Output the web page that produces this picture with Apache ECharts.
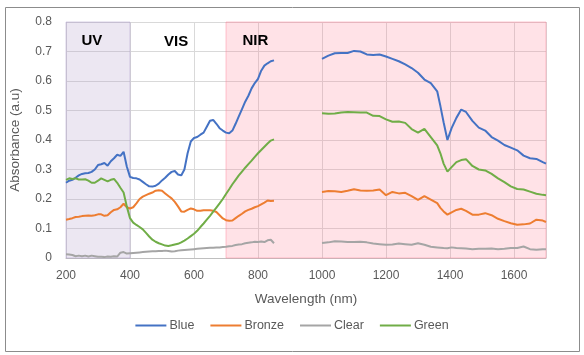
<!DOCTYPE html>
<html><head><meta charset="utf-8">
<script src="https://cdn.jsdelivr.net/npm/echarts@6/dist/echarts.min.js"></script>
<style>html,body{margin:0;padding:0;background:#fff}#c{width:584px;height:355px}</style>
</head><body><div id="c"></div>
<script>
// Wavelengths (nm); 925 is a gap marker (no data between 850 and 1000)
const wavelengths = [200,210,220,230,240,250,260,270,280,290,300,310,320,330,340,350,360,370,380,390,400,410,420,430,440,450,460,470,480,490,500,510,520,530,540,550,560,570,580,590,600,610,620,630,640,650,660,670,680,690,700,710,720,730,740,750,760,770,780,790,800,810,820,830,840,850,
925,
1000,1020,1040,1060,1080,1100,1120,1140,1160,1180,1200,1220,1240,1260,1280,1300,1320,1340,1360,1370,1380,1392,1405,1420,1435,1450,1470,1490,1510,1530,1550,1570,1590,1610,1630,1650,1670,1690,1700];

const blue = [0.255,0.262,0.265,0.272,0.28,0.285,0.287,0.288,0.292,0.30,0.315,0.318,0.322,0.313,0.328,0.338,0.35,0.346,0.36,0.31,0.275,0.271,0.27,0.266,0.258,0.25,0.243,0.242,0.245,0.252,0.263,0.272,0.283,0.292,0.295,0.283,0.28,0.30,0.355,0.395,0.407,0.41,0.418,0.425,0.445,0.465,0.468,0.455,0.44,0.432,0.425,0.423,0.432,0.455,0.48,0.505,0.53,0.55,0.575,0.593,0.607,0.635,0.652,0.66,0.667,0.67,
null,
0.675,0.686,0.694,0.695,0.695,0.702,0.7,0.69,0.688,0.69,0.683,0.675,0.667,0.656,0.644,0.628,0.605,0.593,0.565,0.515,0.46,0.40,0.44,0.475,0.503,0.495,0.465,0.442,0.432,0.41,0.398,0.383,0.374,0.365,0.347,0.338,0.336,0.325,0.32];

const bronze = [0.13,0.132,0.135,0.139,0.14,0.142,0.143,0.144,0.143,0.145,0.148,0.148,0.143,0.145,0.155,0.163,0.165,0.172,0.184,0.172,0.168,0.172,0.185,0.2,0.208,0.213,0.218,0.222,0.228,0.23,0.228,0.219,0.21,0.202,0.19,0.175,0.158,0.157,0.163,0.168,0.165,0.16,0.16,0.162,0.162,0.162,0.16,0.156,0.145,0.134,0.128,0.126,0.127,0.135,0.143,0.15,0.158,0.163,0.167,0.172,0.176,0.182,0.188,0.195,0.193,0.194,
null,
0.224,0.227,0.226,0.224,0.228,0.233,0.229,0.228,0.229,0.232,0.213,0.224,0.219,0.221,0.21,0.197,0.21,0.198,0.186,0.17,0.158,0.147,0.155,0.163,0.167,0.16,0.147,0.147,0.152,0.145,0.133,0.125,0.118,0.113,0.114,0.117,0.13,0.127,0.122];

const clear = [0.013,0.012,0.01,0.006,0.008,0.006,0.008,0.005,0.008,0.006,0.004,0.004,0.003,0.005,0.004,0.006,0.005,0.018,0.02,0.015,0.016,0.017,0.018,0.019,0.02,0.021,0.022,0.023,0.023,0.024,0.024,0.025,0.024,0.022,0.023,0.025,0.026,0.027,0.028,0.029,0.03,0.031,0.032,0.033,0.034,0.035,0.035,0.036,0.036,0.037,0.038,0.04,0.041,0.044,0.046,0.047,0.05,0.052,0.053,0.055,0.054,0.056,0.054,0.06,0.062,0.05,
null,
0.051,0.053,0.057,0.056,0.054,0.054,0.055,0.053,0.049,0.047,0.045,0.046,0.049,0.047,0.045,0.05,0.045,0.038,0.036,0.035,0.034,0.033,0.036,0.034,0.033,0.032,0.03,0.031,0.031,0.032,0.03,0.031,0.034,0.034,0.039,0.03,0.028,0.03,0.03];

const green = [0.265,0.27,0.268,0.27,0.266,0.266,0.267,0.262,0.255,0.255,0.262,0.27,0.265,0.26,0.265,0.268,0.255,0.238,0.222,0.175,0.135,0.12,0.112,0.105,0.097,0.085,0.073,0.062,0.055,0.05,0.046,0.042,0.041,0.043,0.046,0.048,0.053,0.059,0.066,0.074,0.082,0.092,0.105,0.117,0.13,0.143,0.157,0.171,0.185,0.2,0.217,0.233,0.25,0.265,0.28,0.293,0.306,0.318,0.33,0.343,0.355,0.366,0.377,0.388,0.398,0.402,
null,
0.491,0.489,0.49,0.493,0.495,0.494,0.493,0.493,0.482,0.481,0.47,0.462,0.463,0.458,0.437,0.425,0.438,0.41,0.382,0.355,0.32,0.293,0.308,0.325,0.332,0.335,0.312,0.3,0.297,0.285,0.27,0.257,0.243,0.234,0.232,0.225,0.218,0.214,0.213];

const seriesNames = ['Blue','Bronze','Clear','Green'];
const seriesColors = ['#4472C4','#ED7D31','#A5A5A5','#70AD47'];
const regions = [ {name:'UV', from:200, to:400}, {name:'VIS', from:400, to:700}, {name:'NIR', from:700, to:1700} ];

const FONT = "'Liberation Sans', Arial, sans-serif";
const valueSets = [blue, bronze, clear, green];

function pairs(vals){ return wavelengths.map((w,i)=>[w, vals[i]]); }

const regionStyles = {
  UV: {color:'rgba(180,160,205,0.25)', borderColor:'rgba(170,150,200,0.45)', borderWidth:1},
  VIS:{color:'rgba(255,255,255,0)', borderWidth:0},
  NIR:{color:'rgba(255,130,150,0.23)', borderColor:'rgba(255,130,150,0.45)', borderWidth:1}
};
const regionLabelOffset = { UV:[11,7], VIS:[29,7], NIR:[12,7] };

const series = seriesNames.map((n,i)=>({
  name:n, type:'line', data:pairs(valueSets[i]), symbol:'none', showSymbol:false,
  connectNulls:false, smooth:false, z:3,
  lineStyle:{color:seriesColors[i], width:2}, itemStyle:{color:seriesColors[i]}
}));
series.unshift({
  name:'regions', type:'line', data:[], silent:true, z:1,
  markArea:{
    silent:true,
    data: regions.map(r=>[
      {xAxis:r.from, yAxis:0.8, name:r.name, itemStyle:regionStyles[r.name],
       label:{show:true, position:'insideTopLeft', offset:regionLabelOffset[r.name], color:'#000', fontWeight:'bold', fontSize:15, fontFamily:FONT}},
      {xAxis:r.to, yAxis:0}
    ])
  }
});

const chart = echarts.init(document.getElementById('c'), null, {renderer:'canvas'});
chart.setOption({
  animation:false,
  backgroundColor:'#fff',
  grid:{left:64, right:38, top:22, bottom:97, containLabel:false},
  legend:{
    data:seriesNames, bottom:18, left:'center', itemWidth:31, itemHeight:12, itemGap:16,
    icon:'path://M0,5 L31,5 L31,7 L0,7 Z',
    textStyle:{color:'#595959', fontSize:12.5, fontFamily:FONT, padding:[0,0,0,-2]}
  },
  xAxis:{
    type:'value', min:200, max:1700, interval:200,
    name:'Wavelength (nm)', nameLocation:'middle', nameGap:34,
    nameTextStyle:{color:'#595959', fontSize:13.5, fontFamily:FONT},
    axisLine:{show:true, lineStyle:{color:'#BFBFBF', width:1}},
    axisTick:{show:false},
    axisLabel:{color:'#595959', fontSize:12, fontFamily:FONT, margin:12, showMaxLabel:false, formatter:v=>String(v)},
    splitLine:{show:true, lineStyle:{color:'#D9D9D9', width:1}}
  },
  yAxis:{
    type:'value', min:0, max:0.8, interval:0.1,
    name:'Absorbance (a.u)', nameLocation:'middle', nameGap:44,
    nameTextStyle:{color:'#595959', fontSize:13.5, fontFamily:FONT},
    axisLine:{show:false}, axisTick:{show:false},
    axisLabel:{color:'#595959', fontSize:12, fontFamily:FONT, margin:14},
    splitLine:{show:true, lineStyle:{color:'#D9D9D9', width:1}}
  },
  graphic:[{type:'rect', left:3, top:5, shape:{x:0,y:0,width:574,height:344},
    style:{fill:'none', stroke:'#8C8C8C', lineWidth:1}, silent:true, z:-1}],
  series: series
});
</script></body></html>
